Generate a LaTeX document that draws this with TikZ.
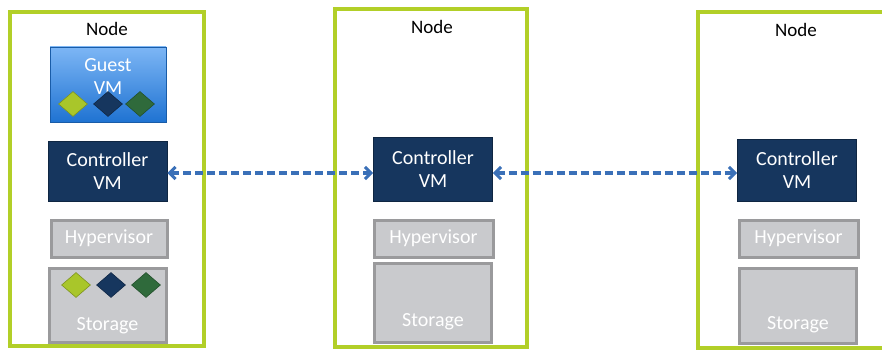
\documentclass[tikz,border=0pt]{standalone}
\usepackage{fontspec}
\setmainfont{Carlito}
\usetikzlibrary{positioning,shapes.geometric,arrows.meta}

\definecolor{nodegreen}{HTML}{B2CF28}
\definecolor{navyvm}{HTML}{16365E}
\definecolor{guesttop}{HTML}{7DB6F5}
\definecolor{guestbot}{HTML}{1F73D2}
\definecolor{greyfill}{HTML}{C9CACD}
\definecolor{greyline}{HTML}{9A9A9C}
\definecolor{linkblue}{HTML}{3A70B8}
\definecolor{gemlime}{HTML}{A9C62A}
\definecolor{gemgreen}{HTML}{2F6A3B}

\tikzset{
  hostbox/.style={draw=nodegreen, line width=3.4pt, inner sep=0pt},
  hosttitle/.style={font=\fontsize{19}{22}\selectfont, text=black},
  boxtext/.style={font=\fontsize{20}{23}\selectfont, text=white},
  ctrlbox/.style={draw=navyvm!70!black, line width=0.8pt, fill=navyvm, boxtext,
    align=center, minimum width=119pt, inner sep=1pt},
  guestbox/.style={draw=guestbot!80!black, line width=0.6pt, top color=guesttop,
    bottom color=guestbot, minimum width=116pt, minimum height=75pt},
  hyperbox/.style={draw=greyline, line width=3pt, fill=greyfill, boxtext,
    minimum width=116pt, minimum height=37pt, inner sep=1pt},
  storebox/.style={draw=greyline, line width=3pt, fill=greyfill, minimum width=117pt},
  gem/.style={diamond, draw=#1!75!black, line width=0.6pt, fill=#1, inner sep=0pt,
    minimum width=29pt, minimum height=25pt},
  link/.style={draw=linkblue, line width=3.2pt, dash pattern=on 8pt off 4pt,
    {Straight Barb[length=6pt,width=12pt,line width=3pt]}-{Straight Barb[length=6pt,width=12pt,line width=3pt]}}
}

\begin{document}
\begin{tikzpicture}[x=1pt,y=-1pt]
\useasboundingbox (0,0) rectangle (882,350);

% Primo nodo
\node[hostbox, minimum width=194pt, minimum height=334pt] (n1) at (107,179) {};
\node[hosttitle] (t1) at (107,29) {Node};
\node[guestbox] (g1) at (108,84.5) {};
\node[boxtext, align=center] (gl1) at (108,76.5) {Guest\\VM};
\node[gem=gemlime] (a1) at (73,104) {};
\node[gem=navyvm] (b1) at (108,104) {};
\node[gem=gemgreen] (c1) at (140,104) {};
\node[ctrlbox, minimum height=60pt] (cv1) at (107.5,171) {Controller\\VM};
\node[hyperbox] (h1) at (109,238.5) {Hypervisor};
\node[storebox, minimum height=74pt] (s1) at (107.5,305) {};
\node[boxtext] (sl1) at (107.5,326) {Storage};
\node[gem=gemlime] (a2) at (76,285) {};
\node[gem=navyvm] (b2) at (111,285) {};
\node[gem=gemgreen] (c2) at (146,285) {};

% Secondo nodo
\node[hostbox, minimum width=192pt, minimum height=338pt] (n2) at (431,178) {};
\node[hosttitle] (t2) at (432,27) {Node};
\node[ctrlbox, minimum height=64pt] (cv2) at (433,169) {Controller\\VM};
\node[hyperbox, minimum width=119pt] (h2) at (433.5,238.5) {Hypervisor};
\node[storebox, minimum height=79pt] (s2) at (433,302.5) {};
\node[boxtext] (sl2) at (433,322) {Storage};

% Terzo nodo
\node[hostbox, minimum width=194pt, minimum height=336pt] (n3) at (795,180) {};
\node[hosttitle] (t3) at (796,30) {Node};
\node[ctrlbox, minimum height=62pt] (cv3) at (797,170) {Controller\\VM};
\node[hyperbox, minimum width=119pt] (h3) at (798.5,238.5) {Hypervisor};
\node[storebox, minimum height=75pt] (s3) at (798,305.5) {};
\node[boxtext] (sl3) at (798,325) {Storage};

% Collegamenti tra i Controller VM
\draw[link] (cv1.east |- 0,173) -- (cv2.west |- 0,173);
\draw[link] (cv2.east |- 0,173) -- (cv3.west |- 0,173);
\end{tikzpicture}
\end{document}
